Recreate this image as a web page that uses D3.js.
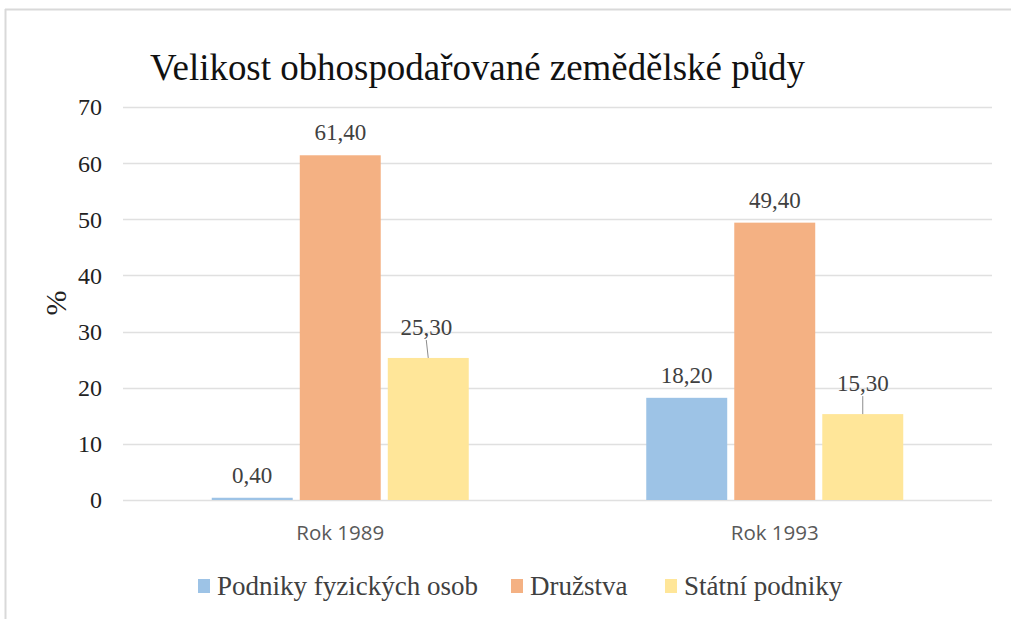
<!DOCTYPE html>
<html>
<head>
<meta charset="utf-8">
<script src="https://cdn.jsdelivr.net/npm/d3@7"></script>
<style>
  body { margin: 0; background: #fff; }
</style>
</head>
<body>
<div id="chart"></div>
<script>
  const categories = ['Rok 1989', 'Rok 1993'];
  const seriesNames = ['Podniky fyzických osob', 'Družstva', 'Státní podniky'];
  const podnikyFyzickych = [0.4, 18.2];
  const druzstva = [61.4, 49.4];
  const statniPodniky = [25.3, 15.3];
  const yTicks = [0, 10, 20, 30, 40, 50, 60, 70];
  const colors = ['#9dc3e6', '#f4b183', '#ffe699'];

  const seriesValues = [podnikyFyzickych, druzstva, statniPodniky];
  const rows = [];
  categories.forEach((c, i) => {
    seriesNames.forEach((s, j) => rows.push({ cat: c, series: s, idx: j, value: seriesValues[j][i] }));
  });

  const width = 1011, height = 619;
  const svg = d3.select('#chart').append('svg')
    .attr('width', width)
    .attr('height', height);

  // frame
  svg.append('line').attr('x1', 5.5).attr('x2', 5.5).attr('y1', 9).attr('y2', height)
    .attr('stroke', '#d9d9d9').attr('stroke-width', 2);
  svg.append('line').attr('x1', 5).attr('x2', width).attr('y1', 9.5).attr('y2', 9.5)
    .attr('stroke', '#d9d9d9').attr('stroke-width', 2);

  const x0 = d3.scaleBand().domain(categories).range([123, 992]);
  const x1 = d3.scaleBand().domain(seriesNames).range([0, 257]).paddingInner(0.08);
  const y = d3.scaleLinear().domain([0, 70]).range([500, 107]);

  // grid
  svg.append('g').selectAll('line').data(yTicks).join('line')
    .attr('x1', 123).attr('x2', 992)
    .attr('y1', d => Math.round(y(d)) + 0.5).attr('y2', d => Math.round(y(d)) + 0.5)
    .attr('stroke', '#e0e0e0').attr('stroke-width', 1.3);

  // y axis labels
  svg.append('g').selectAll('text').data(yTicks).join('text')
    .attr('x', 102).attr('y', d => y(d)).attr('dy', '0.35em')
    .attr('text-anchor', 'end')
    .attr('font-family', 'Liberation Serif')
    .attr('font-size', 24).attr('fill', '#222')
    .text(d => d);

  svg.append('text')
    .attr('transform', 'translate(66,303) rotate(-90)')
    .attr('text-anchor', 'middle')
    .attr('font-family', 'Liberation Serif')
    .attr('font-size', 30).attr('fill', '#222')
    .text('%');

  // title
  svg.append('text')
    .attr('x', 150).attr('y', 80)
    .attr('font-family', 'Liberation Serif')
    .attr('font-size', 37).attr('fill', '#111')
    .attr('textLength', 655).attr('lengthAdjust', 'spacingAndGlyphs')
    .text('Velikost obhospodařované zemědělské půdy');

  const groupX = c => x0(c) + (x0.bandwidth() - 257) / 2;

  // bars
  svg.append('g').selectAll('rect').data(rows).join('rect')
    .attr('x', d => groupX(d.cat) + x1(d.series))
    .attr('y', d => y(d.value))
    .attr('width', x1.bandwidth())
    .attr('height', d => y(0) - y(d.value))
    .attr('fill', d => colors[d.idx]);

  // data labels, yellow ones lifted with a leader line
  rows.forEach(d => {
    const cx = groupX(d.cat) + x1(d.series) + x1.bandwidth() / 2;
    const lifted = d.idx === 2;
    const dx = lifted && d.cat === 'Rok 1989' ? -2 : 0;
    const ty = y(d.value) - 15 - (lifted ? 8 : 0);
    if (lifted) {
      svg.append('line')
        .attr('x1', cx + dx).attr('y1', ty + 5)
        .attr('x2', cx).attr('y2', y(d.value))
        .attr('stroke', '#8c8c8c').attr('stroke-width', 1);
    }
    svg.append('text')
      .attr('x', cx + dx).attr('y', ty)
      .attr('text-anchor', 'middle')
      .attr('font-family', 'Liberation Serif')
      .attr('font-size', 23).attr('fill', '#404040')
      .text(d3.format('.2f')(d.value).replace('.', ','));
  });

  // category labels
  svg.append('g').selectAll('text').data(categories).join('text')
    .attr('x', d => x0(d) + x0.bandwidth() / 2).attr('y', 540)
    .attr('text-anchor', 'middle')
    .attr('font-family', 'Open Sans')
    .attr('font-size', 20.5).attr('fill', '#595959')
    .text(d => d);

  // legend
  const legendX = [198, 511, 665];
  const legend = svg.append('g').selectAll('g').data(seriesNames).join('g')
    .attr('transform', (d, i) => `translate(${legendX[i]},579)`);
  legend.append('rect').attr('width', 12).attr('height', 14)
    .attr('fill', (d, i) => colors[i]);
  legend.append('text')
    .attr('x', 19).attr('y', 16)
    .attr('font-family', 'Liberation Serif')
    .attr('font-size', 27).attr('fill', '#404040')
    .text(d => d);
</script>
</body>
</html>
